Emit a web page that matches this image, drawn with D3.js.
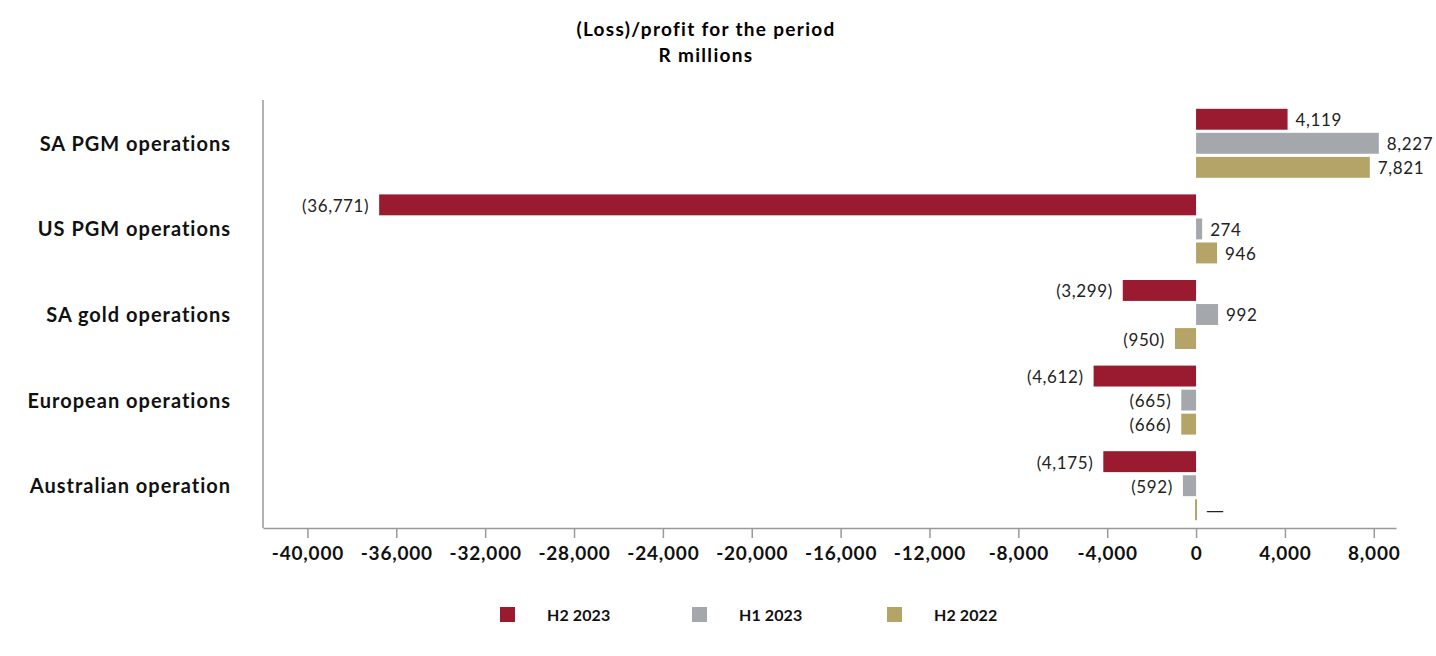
<!DOCTYPE html>
<html>
<head>
<meta charset="utf-8">
<script src="https://cdn.jsdelivr.net/npm/d3@7"></script>
<style>
  body { margin: 0; background: #fff; }
  text { font-family: Lato, "DejaVu Sans", sans-serif; }
</style>
</head>
<body>
<svg id="chart" width="1436" height="656"></svg>
<script>
const categories = [
  "SA PGM operations",
  "US PGM operations",
  "SA gold operations",
  "European operations",
  "Australian operation",
];
const seriesNames = ["H2 2023", "H1 2023", "H2 2022"];
const h2_2023 = [4119, -36771, -3299, -4612, -4175];
const h1_2023 = [8227, 274, 992, -665, -592];
const h2_2022 = [7821, 946, -950, -666, 0];
const xTicks = [-40000, -36000, -32000, -28000, -24000, -20000, -16000, -12000, -8000, -4000, 0, 4000, 8000];
const colors = ["#9a1b30", "#a4a8ac", "#b5a467"];

const series = [h2_2023, h1_2023, h2_2022];
const svg = d3.select("#chart");
const plotLeft = 263, plotRight = 1396, plotTop = 100, plotBottom = 528;

const x = d3.scaleLinear().domain([-42000, 9000]).range([plotLeft, plotRight]);
const y = d3.scaleBand().domain(categories).range([plotTop, plotBottom]);
const inner = d3.scaleBand().domain(seriesNames).range([y.bandwidth() / 2 - 34, y.bandwidth() / 2 + 35]).paddingInner(0.13);

const fmt = d3.format(",");
const tickFmt = (v) => (v < 0 ? "-" : "") + fmt(Math.abs(v));
function label(v) {
  if (v === 0) return "\u2014";
  return v < 0 ? "(" + fmt(-v) + ")" : fmt(v);
}

// title
svg.append("text").attr("x", 706).attr("y", 36).attr("text-anchor", "middle")
  .attr("font-size", 19).attr("letter-spacing", 1.3).attr("font-weight", "bold").text("(Loss)/profit for the period");
svg.append("text").attr("x", 706).attr("y", 62).attr("text-anchor", "middle")
  .attr("font-size", 19).attr("letter-spacing", 1.3).attr("font-weight", "bold").text("R millions");

// bars
const groups = svg.selectAll("g.cat").data(categories).enter().append("g")
  .attr("class", "cat").attr("transform", (d) => "translate(0," + y(d) + ")");

groups.each(function (cat, ci) {
  const g = d3.select(this);
  seriesNames.forEach((s, si) => {
    const v = series[si][ci];
    const x0 = Math.min(x(0), x(v));
    const w = Math.max(2, Math.abs(x(v) - x(0)));
    g.append("rect").attr("x", v === 0 ? x(0) - 1 : x0).attr("y", inner(s))
      .attr("width", w).attr("height", inner.bandwidth()).attr("fill", colors[si]);
    const t = g.append("text")
      .attr("x", v < 0 ? x(v) - 10 : Math.max(x(v), x(0) + 2) + 8)
      .attr("y", inner(s) + inner.bandwidth() / 2 + 7)
      .attr("text-anchor", v < 0 ? "end" : "start")
      .attr("font-size", 17).attr("letter-spacing", 0.6).attr("fill", "#222")
      .text(label(v));
    if (v === 0) t.style("font-family", "'DejaVu Sans', sans-serif").attr("font-size", 18).attr("letter-spacing", 0).attr("y", inner(s) + inner.bandwidth() / 2 + 6);
  });
});

// y axis
svg.append("line").attr("x1", plotLeft).attr("x2", plotLeft).attr("y1", plotTop).attr("y2", plotBottom)
  .attr("stroke", "#999").attr("stroke-width", 1.5);
svg.selectAll("text.cat").data(categories).enter().append("text").attr("class", "cat")
  .attr("x", 231).attr("y", (d) => y(d) + y.bandwidth() / 2 + 8)
  .attr("text-anchor", "end").attr("font-size", 20).attr("letter-spacing", 1).attr("font-weight", "bold").attr("fill", "#111")
  .text((d) => d);

// x axis
const xAxis = svg.append("g").attr("transform", "translate(0," + plotBottom + ")")
  .call(d3.axisBottom(x).tickValues(xTicks).tickSize(10).tickSizeOuter(0).tickPadding(9).tickFormat(tickFmt));
xAxis.select(".domain").attr("stroke", "#999").attr("stroke-width", 1.5);
xAxis.selectAll(".tick line").attr("stroke", "#999").attr("stroke-width", 1.5);
xAxis.selectAll(".tick text").attr("font-size", 19).attr("letter-spacing", 0.8).attr("font-weight", "bold").attr("fill", "#111")
  .style("font-family", "Lato, 'DejaVu Sans', sans-serif");

// legend
const legendX = [500, 692, 887];
const legend = svg.selectAll("g.leg").data(seriesNames).enter().append("g")
  .attr("class", "leg").attr("transform", (d, i) => "translate(" + legendX[i] + ",607)");
legend.append("rect").attr("width", 15).attr("height", 15).attr("fill", (d, i) => colors[i]);
legend.append("text").attr("x", 47).attr("y", 14).attr("font-size", 16).attr("letter-spacing", 0.1).attr("font-weight", "bold")
  .attr("fill", "#111").text((d) => d);
</script>
</body>
</html>
